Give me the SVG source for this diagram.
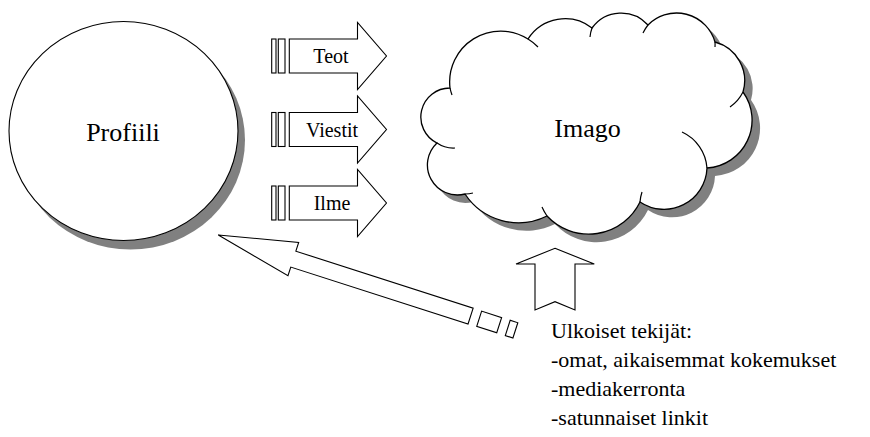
<svg xmlns="http://www.w3.org/2000/svg" width="870" height="437" viewBox="0 0 870 437">
<rect width="870" height="437" fill="#fff"/>

<g id="profiili">
<ellipse fill="#808080" cx="130.5" cy="140" rx="114.5" ry="109.5"/>
<ellipse fill="#fff" stroke="#000" stroke-width="1.1" cx="123.5" cy="131" rx="114.5" ry="109.5"/>
<text font-family="Liberation Serif" font-size="26" text-anchor="middle" x="123" y="140.5">Profiili</text>
</g>

<g id="imago">
<path fill="#808080" transform="translate(8,8)" d="M450,88 A29,29 0 0 0 437,143 A30,30 0 0 0 465,194 A64,64 0 0 0 547,216 A57,57 0 0 0 640,202 A43,43 0 0 0 707,168 A48,48 0 0 0 743,92 A40,40 0 0 0 715,42 A40,40 0 0 0 648,25 A36,36 0 0 0 592,28 A44,44 0 0 0 528,39 A51,51 0 0 0 450,88 Z"/>
<path fill="#fff" stroke="#000" stroke-width="1.3" d="M450,88 A29,29 0 0 0 437,143 A30,30 0 0 0 465,194 A64,64 0 0 0 547,216 A57,57 0 0 0 640,202 A43,43 0 0 0 707,168 A48,48 0 0 0 743,92 A40,40 0 0 0 715,42 A40,40 0 0 0 648,25 A36,36 0 0 0 592,28 A44,44 0 0 0 528,39 A51,51 0 0 0 450,88 Z"/>
<path fill="none" stroke="#000" stroke-width="1.2" d="M450,88 A51,51 0 0 0 452,95 M437,143 A29,29 0 0 0 455,148 M465,194 A30,30 0 0 0 473,193 M547,216 A57,57 0 0 1 542,207 M640,202 A43,43 0 0 1 642,192 M707,168 A43,43 0 0 0 682,132 M743,92 A40,40 0 0 1 730,107 M715,42 A40,40 0 0 1 715,47 M648,25 A40,40 0 0 0 643,33 M592,28 A36,36 0 0 0 590,37 M528,39 A51,51 0 0 1 538,47"/>
<text font-family="Liberation Serif" font-size="26" text-anchor="middle" x="587.5" y="137">Imago</text>
</g>

<g id="teot" transform="translate(0,56)" fill="#fff" stroke="#000" stroke-width="1.1">
<rect x="271.7" y="-17" width="4.3" height="34"/>
<rect x="278.3" y="-17" width="6.7" height="34"/>
<polygon points="289.3,-17 357.5,-17 357.5,-33.5 386.5,0 357.5,33.5 357.5,17 289.3,17"/>
<text fill="#000" stroke="none" font-family="Liberation Serif" font-size="20" text-anchor="middle" x="331" y="7">Teot</text>
</g>
<g id="viestit" transform="translate(0,129.5)" fill="#fff" stroke="#000" stroke-width="1.1">
<rect x="271.7" y="-17" width="4.3" height="34"/>
<rect x="278.3" y="-17" width="6.7" height="34"/>
<polygon points="289.3,-17 357.5,-17 357.5,-33.5 386.5,0 357.5,33.5 357.5,17 289.3,17"/>
<text fill="#000" stroke="none" font-family="Liberation Serif" font-size="20" text-anchor="middle" x="332" y="7">Viestit</text>
</g>
<g id="ilme" transform="translate(0,203)" fill="#fff" stroke="#000" stroke-width="1.1">
<rect x="271.7" y="-17" width="4.3" height="34"/>
<rect x="278.3" y="-17" width="6.7" height="34"/>
<polygon points="289.3,-17 357.5,-17 357.5,-33.5 386.5,0 357.5,33.5 357.5,17 289.3,17"/>
<text fill="#000" stroke="none" font-family="Liberation Serif" font-size="20" text-anchor="middle" x="332" y="7">Ilme</text>
</g>

<g id="connectors" fill="#fff" stroke="#000" stroke-width="1.1">
<g id="feedback-arrow" transform="translate(218.3,235) rotate(17.8)">
<polygon points="0,0 78.8,-17.5 78.8,-8.3 265,-8.3 265,8.4 78.8,8.4 78.8,17.5"/>
<rect x="274" y="-8" width="21" height="16"/>
<rect x="304" y="-8" width="8" height="16"/>
</g>
<polygon id="up-arrow" points="555,248.3 594.3,264 575,264 575,310 555,301.7 535,310 535,264 516,264"/>
</g>

<g id="ulkoiset">
<text font-family="Liberation Serif" font-size="22" x="551" y="338">Ulkoiset tekijät:</text>
<text font-family="Liberation Serif" font-size="22" x="551" y="367">-omat, aikaisemmat kokemukset</text>
<text font-family="Liberation Serif" font-size="22" x="551" y="396">-mediakerronta</text>
<text font-family="Liberation Serif" font-size="22" x="551" y="425">-satunnaiset linkit</text>
</g>
</svg>
